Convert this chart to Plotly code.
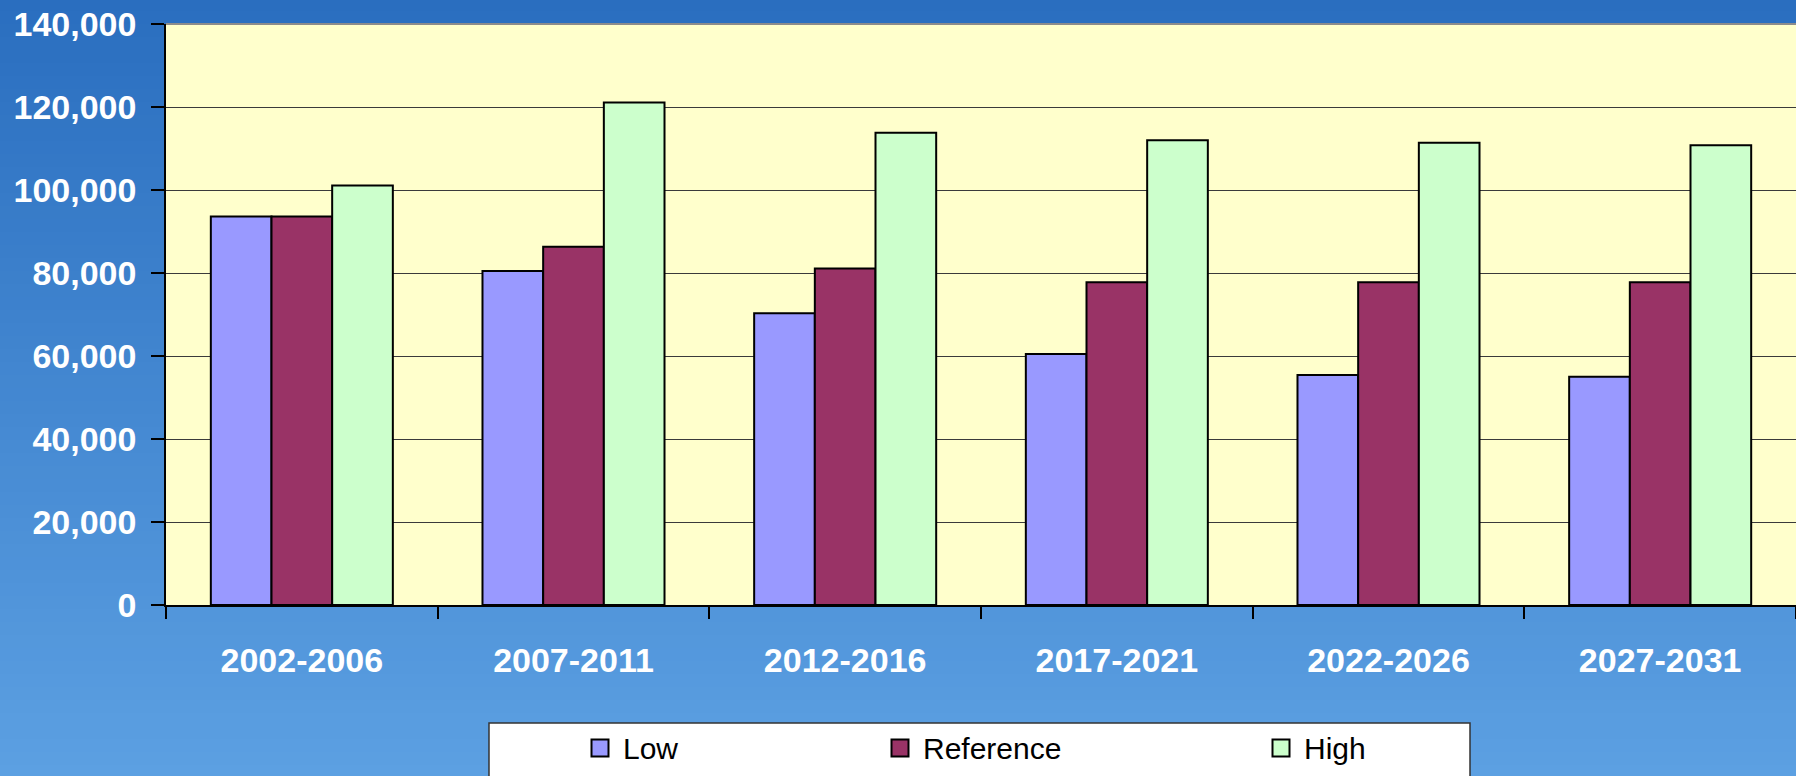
import plotly.graph_objects as go

categories = ["2002-2006", "2007-2011", "2012-2016", "2017-2021", "2022-2026", "2027-2031"]
low = [93600, 80500, 70300, 60500, 55400, 55000]
reference = [93600, 86300, 81100, 77800, 77800, 77800]
high = [101100, 121100, 113800, 112000, 111400, 110800]

series_names = ["Low", "Reference", "High"]
series_colors = ["#9999FF", "#993366", "#CCFFCC"]
y_ticks = [0, 20000, 40000, 60000, 80000, 100000, 120000, 140000]

W, H = 1796, 776
L, R, T, B = 166, 0, 24, 171
pw, ph = W - L - R, H - T - B

FONT = "Liberation Sans, Arial, sans-serif"


def px_x(x):
    return (x - L) / pw


def px_y(y):
    return (H - B - y) / ph


fig = go.Figure()
for name, vals, col in zip(series_names, [low, reference, high], series_colors):
    fig.add_trace(go.Bar(
        x=categories, y=vals, name=name, showlegend=False,
        marker=dict(color=col, line=dict(color="black", width=2)),
    ))

shapes = []
annotations = []
# gradient background strips
n = 60
top_c = (0x2A, 0x6E, 0xBF)
bot_c = (0x5C, 0xA0, 0xE2)
x0p = px_x(-2)
x1p = px_x(W + 2)
ytop = px_y(-2)
ybot = px_y(H + 2)
for i in range(n):
    f = i / (n - 1)
    c = tuple(int(round(top_c[k] + (bot_c[k] - top_c[k]) * f)) for k in range(3))
    ya = ytop - (ytop - ybot) * i / n
    yb = ytop - (ytop - ybot) * (i + 1) / n - 0.002
    shapes.append(dict(type="rect", xref="paper", yref="paper", x0=x0p, x1=x1p, y0=yb, y1=ya,
                       fillcolor="rgb(%d,%d,%d)" % c, line=dict(width=0), layer="below"))
# plot area background
shapes.append(dict(type="rect", xref="paper", yref="paper", x0=0, x1=1.01, y0=0, y1=1,
                   fillcolor="#FFFFCC", line=dict(width=0), layer="below"))
# top border of plot area
shapes.append(dict(type="line", xref="paper", yref="paper", x0=0, x1=1.01, y0=1, y1=1,
                   line=dict(color="#8C8C8C", width=2), layer="above"))
# legend box
shapes.append(dict(type="rect", xref="paper", yref="paper",
                   x0=px_x(489), x1=px_x(1470), y0=px_y(800), y1=px_y(723),
                   fillcolor="white", line=dict(color="#333333", width=1.5), layer="above"))
# legend entries (markers + labels)
legend_marker_x = [600, 900, 1281]
legend_y = 748
msz = 17
for name, col, mx in zip(series_names, series_colors, legend_marker_x):
    shapes.append(dict(type="rect", xref="paper", yref="paper",
                       x0=px_x(mx - msz / 2), x1=px_x(mx + msz / 2),
                       y0=px_y(legend_y + msz / 2), y1=px_y(legend_y - msz / 2),
                       fillcolor=col, line=dict(color="black", width=2), layer="above"))
    annotations.append(dict(xref="paper", yref="paper", x=px_x(mx + msz / 2 + 12), y=px_y(legend_y),
                            xanchor="left", yanchor="middle", showarrow=False, text=name,
                            font=dict(family=FONT, size=30, color="black")))

fig.update_layout(
    width=W, height=H,
    margin=dict(l=L, r=R, t=T, b=B, autoexpand=False),
    paper_bgcolor="#3F86D0",
    plot_bgcolor="rgba(0,0,0,0)",
    barmode="group",
    bargap=0.33,
    bargroupgap=0,
    shapes=shapes,
    annotations=annotations,
    showlegend=False,
    xaxis=dict(
        type="category",
        showline=True, linecolor="black", linewidth=1.5,
        ticks="outside", tickson="boundaries", ticklen=12, tickcolor="black", tickwidth=1.5,
        tickfont=dict(family=FONT, size=34, color="white", weight="bold"),
        ticklabelstandoff=24,
        showgrid=False,
    ),
    yaxis=dict(
        range=[0, 140000],
        tickvals=y_ticks, tickformat=",d",
        showline=True, linecolor="black", linewidth=1.5,
        ticks="outside", ticklen=13, tickcolor="black", tickwidth=1.5,
        tickfont=dict(family=FONT, size=34, color="white", weight="bold"),
        ticklabelstandoff=8,
        showgrid=True, gridcolor="#3A3A3A", gridwidth=1,
        zeroline=False,
    ),
)

fig.write_html("out.html", config={"displayModeBar": False},
               post_script="document.body.style.margin='0';document.body.style.overflow='hidden';")
